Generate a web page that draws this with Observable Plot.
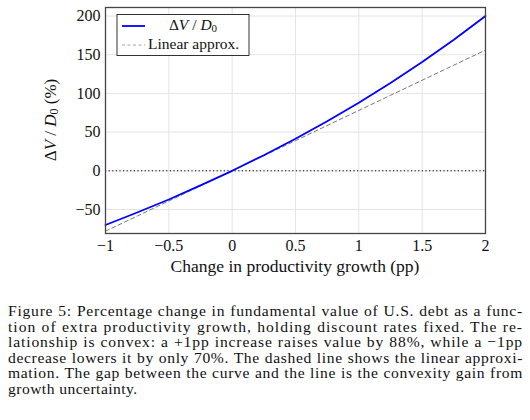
<!DOCTYPE html>
<html>
<head>
<meta charset="utf-8">
<script src="https://cdn.jsdelivr.net/npm/d3@7"></script>
<script src="https://cdn.jsdelivr.net/npm/@observablehq/plot@0.6"></script>
<style>
  body { margin: 0; background: white; font-family: "Liberation Serif", serif; }
  #wrap { width: 530px; }
  #caption { margin: 13px 0 0 8px; width: 515px; font-size: 15.6px; line-height: 15.6px; color: #111; }
  #caption div { text-align: justify; text-align-last: justify; white-space: nowrap; }
  #caption div.last { text-align-last: left; }
  #caption span { display: inline-block; }
</style>
</head>
<body>
<div id="wrap">
  <div id="chart"></div>
  <div id="caption"></div>
</div>
<script>
// Data
const growth = [-1, -0.75, -0.5, -0.25, 0, 0.25, 0.5, 0.75, 1, 1.25, 1.5, 1.75, 2];
const valueChange = [-70, -53.9, -37.1, -18.9, 0, 20.1, 41.4, 64.0, 88, 113.5, 140.6, 169.4, 200];
const linearApprox = [-78, -58.5, -39, -19.5, 0, 19.5, 39, 58.5, 78, 97.5, 117, 136.5, 156];
const xTicks = [-1, -0.5, 0, 0.5, 1, 1.5, 2];
const yTicks = [-50, 0, 50, 100, 150, 200];
const captionLines = [
  "Figure 5: Percentage change in fundamental value of U.S. debt as a func-",
  "tion of extra productivity growth, holding discount rates fixed.  The re-",
  "lationship is convex: a +1pp increase raises value by 88%, while a \u22121pp",
  "decrease lowers it by only 70%. The dashed line shows the linear approxi-",
  "mation. The gap between the curve and the line is the convexity gain from",
  "growth uncertainty."
];

const curveData = growth.map((g, i) => ({g, v: valueChange[i]}));
const linData = growth.map((g, i) => ({g, v: linearApprox[i]}));
const fmt = d => String(d).replace("-", "\u2212");

const W = 530, H = 290, ML = 105, MR = 45, MT = 7, MB = 57;

const chart = Plot.plot({
  width: W, height: H,
  marginLeft: ML, marginRight: MR, marginTop: MT, marginBottom: MB,
  style: {fontFamily: "Liberation Serif, serif", fontSize: "16px", color: "#111", background: "white"},
  x: {domain: [-1, 2]},
  y: {domain: [-81, 211]},
  marks: [
    Plot.gridX(xTicks, {stroke: "#e4e4e4", strokeOpacity: 1}),
    Plot.gridY(yTicks, {stroke: "#e4e4e4", strokeOpacity: 1}),
    Plot.ruleY([0], {stroke: "black", strokeWidth: 1, strokeDasharray: "1.2,2.4"}),
    Plot.line(linData, {x: "g", y: "v", stroke: "#555", strokeWidth: 0.8, strokeDasharray: "4,3"}),
    Plot.line(curveData, {x: "g", y: "v", stroke: "#0000ff", strokeWidth: 1.8}),
    Plot.frame({stroke: "#444", strokeWidth: 1.3}),
    Plot.axisX(xTicks, {tickSize: 0, tickPadding: 6, tickFormat: fmt, label: null, fontSize: 16}),
    Plot.axisY(yTicks, {tickSize: 0, tickPadding: 5, tickFormat: fmt, label: null, fontSize: 16})
  ]
});
document.getElementById("chart").appendChild(chart);

const svg = d3.select(chart);
// x label
svg.append("text")
  .attr("x", ML + (W - ML - MR) / 2).attr("y", 268)
  .attr("text-anchor", "middle").attr("dominant-baseline", "middle")
  .attr("font-size", 17.5).attr("fill", "#111")
  .text("Change in productivity growth (pp)");
// y label
const yl = svg.append("text")
  .attr("transform", `translate(52,${MT + (H - MT - MB) / 2}) rotate(-90)`)
  .attr("text-anchor", "middle").attr("dominant-baseline", "middle")
  .attr("font-size", 17).attr("fill", "#111");
yl.append("tspan").text("\u0394");
yl.append("tspan").attr("font-style", "italic").text("V");
yl.append("tspan").text(" / ");
yl.append("tspan").attr("font-style", "italic").text("D");
yl.append("tspan").attr("font-size", 12).attr("dy", 3).text("0");
yl.append("tspan").attr("dy", -3).text(" (%)");

// legend
const lg = svg.append("g");
lg.append("rect").attr("x", 117).attr("y", 14.5).attr("width", 132).attr("height", 41)
  .attr("fill", "white").attr("stroke", "black").attr("stroke-width", 0.8);
lg.append("line").attr("x1", 122).attr("x2", 145).attr("y1", 26).attr("y2", 26)
  .attr("stroke", "#0000ff").attr("stroke-width", 1.8);
lg.append("line").attr("x1", 122).attr("x2", 145).attr("y1", 45).attr("y2", 45)
  .attr("stroke", "#999").attr("stroke-width", 0.9).attr("stroke-dasharray", "3,2.5");
const l1 = lg.append("text").attr("x", 193).attr("y", 26).attr("text-anchor", "middle")
  .attr("dominant-baseline", "middle").attr("font-size", 15.5).attr("fill", "#111");
l1.append("tspan").text("\u0394");
l1.append("tspan").attr("font-style", "italic").text("V");
l1.append("tspan").text(" / ");
l1.append("tspan").attr("font-style", "italic").text("D");
l1.append("tspan").attr("font-size", 11).attr("dy", 3).text("0");
lg.append("text").attr("x", 148).attr("y", 45).attr("text-anchor", "start")
  .attr("dominant-baseline", "middle")
  .attr("font-size", 15.5).attr("fill", "#111").text("Linear approx.");

// caption: widen letters so each justified line needs only small word gaps
const cap = document.getElementById("caption");
const capWidth = 515;
captionLines.forEach((t, i) => {
  const d = document.createElement("div");
  d.textContent = t;
  const last = i === captionLines.length - 1;
  if (last) d.className = "last";
  cap.appendChild(d);
  const probe = document.createElement("span");
  probe.textContent = t;
  probe.style.whiteSpace = "nowrap";
  cap.appendChild(probe);
  const w = probe.getBoundingClientRect().width;
  cap.removeChild(probe);
  const ls = last ? 0.45 : Math.max(0, (capWidth - 4 - w) / t.length);
  d.style.letterSpacing = ls + "px";
});
</script>
</body>
</html>
